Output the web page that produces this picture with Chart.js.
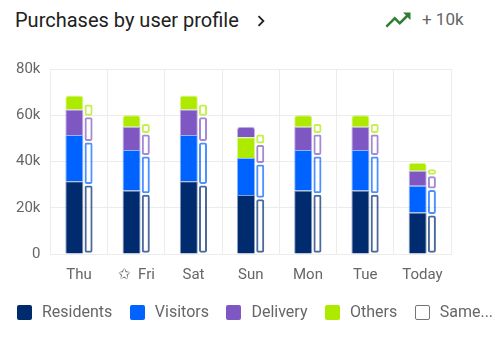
<!DOCTYPE html>
<html>
<head>
<meta charset="utf-8">
<title>Purchases by user profile</title>
<script src="https://cdn.jsdelivr.net/npm/chart.js@4.4.1/dist/chart.umd.min.js"></script>
<style>
  body { margin: 0; width: 499px; height: 338px; overflow: hidden; background: #fff; font-family: Roboto, sans-serif; position: relative; }
  .title { position: absolute; left: 15px; top: 6px; font-size: 20px; line-height: 28px; color: #212121; white-space: nowrap; }
  .chevron { position: absolute; left: 250px; top: 10px; }
  .trend-icon { position: absolute; left: 383px; top: 5px; }
  .trend-value { position: absolute; left: 422px; top: 9px; font-size: 17px; line-height: 20px; color: #666; }
  .chart-box { position: absolute; left: 0; top: 50px; width: 499px; height: 253px; }
  .legend { position: absolute; left: 17px; top: 302px; display: flex; align-items: center; gap: 17.5px; font-size: 16px; line-height: 20px; color: #666; white-space: nowrap; }
  .legend-item { display: flex; align-items: center; }
  .legend-box { width: 15px; height: 15px; border-radius: 2px; margin-right: 10px; box-sizing: border-box; }
</style>
</head>
<body>
  <div class="title">Purchases by user profile</div>
  <svg class="chevron" width="22" height="22" viewBox="0 0 24 24"><path fill="#212121" d="M10 6L8.59 7.41 13.17 12l-4.58 4.59L10 18l6-6z"/></svg>
  <svg class="trend-icon" width="30" height="30" viewBox="0 0 24 24"><path fill="#2e7d32" d="M16 6l2.29 2.29-4.88 4.88-4-4L2 16.59 3.41 18l6-6 4 4 6.3-6.29L22 12V6z"/></svg>
  <div class="trend-value">+ 10k</div>
  <div class="chart-box"><canvas id="chart"></canvas></div>
  <div class="legend" id="legend"></div>

<script>
const days = ['Thu', '\u2729  Fri', 'Sat', 'Sun', 'Mon', 'Tue', 'Today'];

// this week
const residents = [31500, 27500, 31500, 25500, 27500, 27500, 18000];
const visitors  = [20000, 17500, 20000, 16000, 17500, 17500, 11500];
const delivery  = [11000, 10000, 11000, 4500, 10000, 10000, 6500];
const others    = [6000, 5000, 6000, 9000, 5000, 5000, 3500];
// days where the Others block sits under Delivery
const othersUnder = ['Sun'];

// same days, previous period
const prevResidents = [30000, 26000, 30000, 24000, 26000, 26000, 17000];
const prevVisitors  = [18500, 16500, 18500, 15000, 16500, 16500, 11000];
const prevDelivery  = [11000, 9500, 11000, 8500, 9500, 9500, 6000];
const prevOthers    = [5500, 4500, 5500, 4500, 4500, 4500, 3000];

const NAVY = '#002b6e', BLUE = '#0062ff', PURPLE = '#7e57c2', LIME = '#aeea00';

function fade(hex, alpha) {
  const n = parseInt(hex.slice(1), 16);
  return `rgba(${n >> 16}, ${(n >> 8) & 255}, ${n & 255}, ${alpha})`;
}

function currentBars(label, data, color, extra) {
  return Object.assign({
    label: label,
    data: data,
    stack: 'current',
    backgroundColor: color,
    borderColor: fade(color, 0.45),
    borderWidth: 1,
    categoryPercentage: 0.33,
    barPercentage: 1.915
  }, extra);
}

function previousBars(label, data, color) {
  return {
    label: label,
    data: data,
    stack: 'previous',
    backgroundColor: '#fff',
    borderColor: fade(color, 0.7),
    borderWidth: 3.5,
    borderSkipped: false,
    borderRadius: { topLeft: 2, topRight: 2, bottomLeft: 2, bottomRight: 2 },
    inflateAmount: -0.75,
    categoryPercentage: 0.665,
    barPercentage: 0.5
  };
}

const othersLow = others.map((v, i) => othersUnder.includes(days[i]) ? v : null);
const othersTop = others.map((v, i) => othersUnder.includes(days[i]) ? null : v);

Chart.defaults.font.family = 'Roboto, sans-serif';

const chart = new Chart(document.getElementById('chart'), {
  type: 'bar',
  data: {
    labels: days,
    datasets: [
      currentBars('Residents', residents, NAVY),
      currentBars('Visitors', visitors, BLUE),
      currentBars('Others', othersLow, LIME),
      currentBars('Delivery', delivery, PURPLE, { borderRadius: 3 }),
      currentBars('Others', othersTop, LIME, { borderRadius: 3 }),
      previousBars('Residents', prevResidents, NAVY),
      previousBars('Visitors', prevVisitors, BLUE),
      previousBars('Delivery', prevDelivery, PURPLE),
      previousBars('Others', prevOthers, LIME)
    ]
  },
  options: {
    responsive: true,
    maintainAspectRatio: false,
    animation: false,
    layout: { padding: { left: 6, right: 48, top: 9, bottom: 7 } },
    plugins: {
      legend: { display: false }
    },
    scales: {
      x: {
        grid: { color: '#ececec', drawTicks: false },
        border: { color: '#ececec' },
        ticks: { color: '#666', font: { size: 15 }, padding: 12 }
      },
      y: {
        stacked: true,
        min: 0,
        max: 80000,
        grid: { color: '#ececec', drawTicks: false },
        border: { color: '#ececec' },
        ticks: {
          stepSize: 20000,
          color: '#666',
          font: { size: 15 },
          padding: 10,
          callback: v => v ? (v / 1000) + 'k' : '0'
        }
      }
    }
  }
});

// legend: one entry per series plus the outlined comparison bars
const legendEl = document.getElementById('legend');
const legendItems = [
  ['Residents', NAVY], ['Visitors', BLUE], ['Delivery', PURPLE], ['Others', LIME], ['Same...', null]
];
legendItems.forEach(([text, color]) => {
  const item = document.createElement('div');
  item.className = 'legend-item';
  const box = document.createElement('span');
  box.className = 'legend-box';
  if (color) {
    box.style.background = color;
  } else {
    box.style.border = '1.5px solid #757575';
  }
  item.appendChild(box);
  item.appendChild(document.createTextNode(text));
  legendEl.appendChild(item);
});
</script>
</body>
</html>
